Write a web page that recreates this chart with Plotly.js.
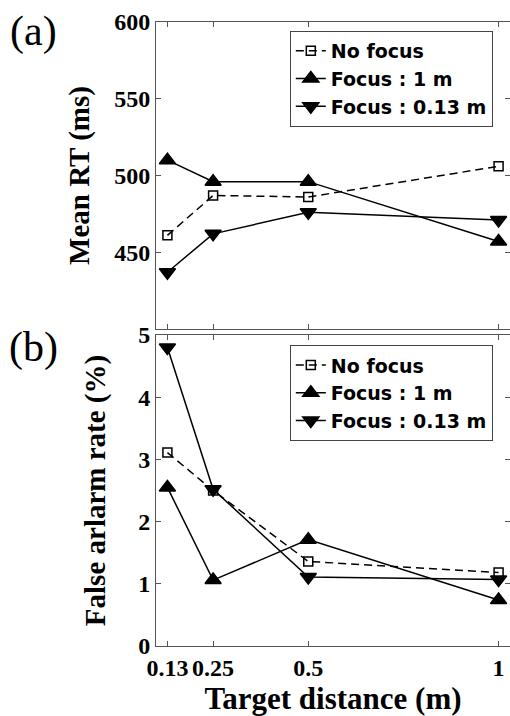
<!DOCTYPE html>
<html>
<head>
<meta charset="utf-8">
<script src="https://cdn.plot.ly/plotly-3.0.1.min.js"></script>
<style>
html,body{margin:0;padding:0;background:#fff;}
#chart{width:510px;height:716px;}
</style>
</head>
<body>
<div id="chart"></div>
<script>
// ---- data ----
const distances = [0.13, 0.25, 0.5, 1];
const distanceLabels = ['0.13', '0.25', '0.5', '1'];
const seriesNames = ['No focus', 'Focus : 1 m', 'Focus : 0.13 m'];
const rtNoFocus = [461, 487, 486, 506];
const rtFocus1m = [510, 496, 496, 457];
const rtFocus013m = [437, 462, 476, 471];
const faNoFocus = [3.11, 2.50, 1.36, 1.18];
const faFocus1m = [2.55, 1.06, 1.71, 0.74];
const faFocus013m = [4.80, 2.52, 1.11, 1.07];
const rtTicks = [450, 500, 550, 600];
const faTicks = [0, 1, 2, 3, 4, 5];

// ---- styles ----
const styles = [
  {dash: '8px,5px', symbol: 'square-open', size: 9},
  {dash: 'solid', symbol: 'triangle-up', size: 14},
  {dash: 'solid', symbol: 'triangle-down', size: 14}
];
function mk(y, i, xa, ya, leg) {
  return {
    x: distances, y: y, type: 'scatter', mode: 'lines+markers',
    name: seriesNames[i], xaxis: xa, yaxis: ya, legend: leg,
    legendgroup: leg + '_' + i, cliponaxis: false,
    line: {color: '#000', width: 1.5, dash: styles[i].dash},
    marker: {symbol: styles[i].symbol, size: styles[i].size, color: '#000',
             line: {color: '#000', width: 1.5}}
  };
}
const data = [
  mk(rtNoFocus, 0, 'x', 'y', 'legend'),
  mk(rtFocus1m, 1, 'x', 'y', 'legend'),
  mk(rtFocus013m, 2, 'x', 'y', 'legend'),
  mk(faNoFocus, 0, 'x2', 'y2', 'legend2'),
  mk(faFocus1m, 1, 'x2', 'y2', 'legend2'),
  mk(faFocus013m, 2, 'x2', 'y2', 'legend2')
];

const serif = {family: 'Liberation Serif', color: '#000', weight: 'bold'};
const axCol = '#555';
const baseX = {
  range: [0.1, 1.03], tickvals: distances, ticktext: distanceLabels,
  ticks: 'inside', ticklen: 5, tickcolor: axCol, showline: true, linecolor: axCol,
  linewidth: 1, mirror: 'ticks', showgrid: false, zeroline: false
};
const baseY = {
  ticks: 'inside', ticklen: 5, tickcolor: axCol, showline: true, linecolor: axCol,
  linewidth: 1, mirror: 'ticks', showgrid: false, zeroline: false
};
const legendBase = {
  xanchor: 'left', yanchor: 'top', bgcolor: '#fff', bordercolor: '#444', borderwidth: 1,
  font: {family: 'DejaVu Sans', size: 19, color: '#000', weight: 'bold'},
  traceorder: 'grouped', tracegroupgap: 0, itemwidth: 30
};

const layout = {
  width: 510, height: 716,
  margin: {l: 156, r: 0, t: 22, b: 70},
  paper_bgcolor: '#fff', plot_bgcolor: '#fff',
  showlegend: true,
  xaxis: Object.assign({}, baseX, {anchor: 'y', showticklabels: false}),
  yaxis: Object.assign({}, baseY, {
    domain: [0.508, 1], range: [400, 600], tickvals: rtTicks,
    tickfont: Object.assign({}, serif, {size: 24}),
    title: {text: 'Mean RT (ms)', font: Object.assign({}, serif, {size: 29}), standoff: 16}
  }),
  xaxis2: Object.assign({}, baseX, {
    anchor: 'y2',
    tickfont: Object.assign({}, serif, {size: 24}),
    title: {text: 'Target distance (m)', font: Object.assign({}, serif, {size: 31}), standoff: 6}
  }),
  yaxis2: Object.assign({}, baseY, {
    domain: [0, 0.4984], range: [0, 5], tickvals: faTicks, anchor: 'x2',
    tickfont: Object.assign({}, serif, {size: 24}),
    title: {text: 'False arlarm rate (%)', font: Object.assign({}, serif, {size: 29}), standoff: 24}
  }),
  legend: Object.assign({}, legendBase, {x: 0.378, y: 0.9856}),
  legend2: Object.assign({}, legendBase, {x: 0.378, y: 0.482}),
  annotations: [
    {text: '(a)', xref: 'paper', yref: 'paper', x: -0.347, y: 0.984, xanchor: 'center', yanchor: 'middle',
     showarrow: false, font: {family: 'Liberation Serif', size: 42, color: '#000'}},
    {text: '(b)', xref: 'paper', yref: 'paper', x: -0.347, y: 0.4776, xanchor: 'center', yanchor: 'middle',
     showarrow: false, font: {family: 'Liberation Serif', size: 42, color: '#000'}}
  ]
};

Plotly.newPlot('chart', data, layout, {displayModeBar: false, staticPlot: true});
</script>
</body>
</html>
